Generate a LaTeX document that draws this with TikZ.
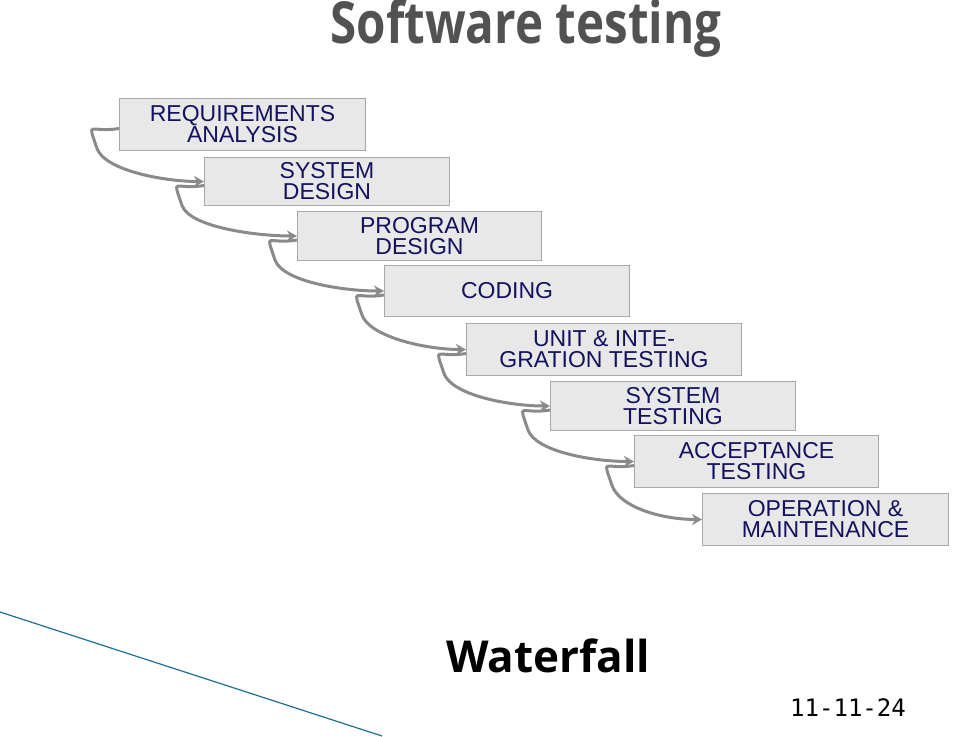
\documentclass[tikz,border=0pt]{standalone}
\usetikzlibrary{arrows.meta}
\usepackage{fontspec}
\setmainfont{Liberation Sans}
\newfontfamily\titlefont{Open Sans}
\newfontfamily\datefont{DejaVu Sans Mono}
\definecolor{navy}{HTML}{12125E}
\definecolor{boxfill}{HTML}{E8E8E8}
\definecolor{boxline}{HTML}{A8A8A8}
\definecolor{arr}{HTML}{8A8A8A}
\definecolor{teal}{HTML}{1F6F8F}
\begin{document}
\begin{tikzpicture}[x=1pt,y=-1pt,
  stage/.style={draw=boxline,fill=boxfill,line width=1pt,text=navy,align=center,font=\fontsize{23}{21}\selectfont,inner sep=0pt,anchor=north west},
  flow/.style={draw=arr,line width=3pt,-{Stealth[length=10pt,width=11pt]}}]
\useasboundingbox (0,0) rectangle (960,736);
\node[font=\titlefont\bfseries\fontsize{58}{60}\selectfont,text=black!68,xscale=0.82,transform shape] (title) at (526,28) {Software testing};
\node[stage,minimum width=246pt,minimum height=52pt] (b1) at (119,98) {REQUIREMENTS\\ANALYSIS};
\node[stage,minimum width=245pt,minimum height=48pt] (b2) at (204,157) {SYSTEM\\DESIGN};
\node[stage,minimum width=244pt,minimum height=49pt] (b3) at (297,211) {PROGRAM\\DESIGN};
\node[stage,minimum width=245pt,minimum height=51pt] (b4) at (384,265) {CODING};
\node[stage,minimum width=275pt,minimum height=52pt] (b5) at (466,323) {UNIT \& INTE-\\GRATION TESTING};
\node[stage,minimum width=245pt,minimum height=49pt] (b6) at (550,381) {SYSTEM\\TESTING};
\node[stage,minimum width=244pt,minimum height=52pt] (b7) at (634,435) {ACCEPTANCE\\TESTING};
\node[stage,minimum width=246pt,minimum height=52pt] (b8) at (702,493) {OPERATION \&\\MAINTENANCE};
\foreach \a/\b in {b1/b2,b2/b3,b3/b4,b4/b5,b5/b6,b6/b7,b7/b8}
  \draw[flow] ([yshift=-4pt]\a.west) .. controls +(-30,5) and +(-10,-30) .. +(-22,20) .. controls +(8,22) and +(-40,0) .. (\b.west);
\node[font=\titlefont\bfseries\fontsize{44}{46}\selectfont,text=black] (wf) at (548,656) {Waterfall};
\node[font=\datefont\fontsize{24}{26}\selectfont,text=black] (date) at (848,708) {11-11-24};
\coordinate (l1) at (0,612);
\coordinate (l2) at (382,736);
\draw[teal,line width=1.2pt] (l1) -- (l2);
\end{tikzpicture}
\end{document}
